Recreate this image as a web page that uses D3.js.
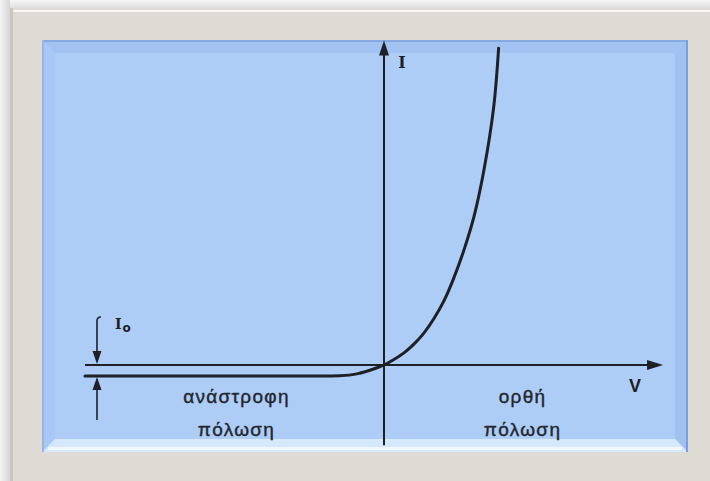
<!DOCTYPE html>
<html>
<head>
<meta charset="utf-8">
<script src="https://cdn.jsdelivr.net/npm/d3@7"></script>
<style>
html,body{margin:0;padding:0;background:#ececec;}
svg{display:block;}
</style>
</head>
<body>
<svg id="chart" width="710" height="481"></svg>
<script>
// ---- data (diode I–V characteristic, arbitrary units) ----
const curveV = [-3.0, -1.5, -0.6, -0.45, -0.35, -0.25, -0.15, -0.07, 0, 0.1, 0.2, 0.3, 0.4, 0.5, 0.6, 0.7, 0.8, 0.9, 1.0, 1.1, 1.15];
const curveI = [-1, -1, -1, -0.98, -0.92, -0.76, -0.5, -0.25, 0, 0.5, 1.1, 1.9, 2.9, 4.2, 5.8, 7.9, 10.4, 13.4, 17.6, 23.4, 28.8];
const vExtent = [-3.0, 2.8];      // horizontal axis from left end to arrow tip
const iExtent = [-7.3, 29.5];     // vertical axis from bottom end to arrow tip
const axisLabels = ["I", "V"];
const saturationLabel = ["I", "o"];
const regionLabels = [["ανάστροφη", "πόλωση"], ["ορθή", "πόλωση"]];
const regionCenters = [-1.48, 1.39];

const svg = d3.select("#chart");
const W = 710, H = 481;

// ---- frame / background ----
const defs = svg.append("defs");
const gl = defs.append("linearGradient").attr("id","shL").attr("x1",0).attr("x2",1).attr("y1",0).attr("y2",0);
gl.append("stop").attr("offset","0").attr("stop-color","#f4f4f4");
gl.append("stop").attr("offset","1").attr("stop-color","#d6d6d6");
const gt = defs.append("linearGradient").attr("id","shT").attr("x1",0).attr("x2",0).attr("y1",0).attr("y2",1);
gt.append("stop").attr("offset","0").attr("stop-color","#f6f6f6");
gt.append("stop").attr("offset","1").attr("stop-color","#dcdcdc");
svg.append("rect").attr("x",0).attr("y",0).attr("width",W).attr("height",H).attr("fill","#ededed");
svg.append("rect").attr("x",0).attr("y",0).attr("width",W).attr("height",9).attr("fill","url(#shT)");
svg.append("rect").attr("x",0).attr("y",0).attr("width",10).attr("height",H).attr("fill","url(#shL)");
svg.append("rect").attr("x",10).attr("y",8).attr("width",W-10).attr("height",H-8).attr("fill","#dedbd4");
svg.append("rect").attr("x",10).attr("y",8).attr("width",3).attr("height",H-8).attr("fill","#c9c6bf");
svg.append("rect").attr("x",13).attr("y",10).attr("width",W-13).attr("height",2).attr("fill","#f7f6f2");

// ---- blue panel with bevel ----
const px0 = 42, py0 = 40, px1 = 688, py1 = 452, bv = 13;
svg.append("rect").attr("x",px0).attr("y",py0).attr("width",px1-px0).attr("height",py1-py0).attr("fill","#adcdf7");
const poly = pts => pts.map(p => p.join(",")).join(" ");
svg.append("polygon").attr("points", poly([[px0,py0],[px1,py0],[px1-bv,py0+bv],[px0+bv,py0+bv]])).attr("fill","#a2c3f2");
svg.append("polygon").attr("points", poly([[px0,py0],[px0+bv,py0+bv],[px0+bv,py1-bv],[px0,py1]])).attr("fill","#a8c8f5");
svg.append("polygon").attr("points", poly([[px1,py0],[px1,py1],[px1-bv,py1-bv],[px1-bv,py0+bv]])).attr("fill","#a1c1f1");
svg.append("polygon").attr("points", poly([[px0,py1],[px0+bv,py1-bv],[px1-bv,py1-bv],[px1,py1]])).attr("fill","#d6e8fc");
svg.append("rect").attr("x",px0+6).attr("y",py1-5).attr("width",px1-px0-12).attr("height",3).attr("fill","#f0f7ff");
svg.append("rect").attr("x",px0).attr("y",py0).attr("width",px1-px0).attr("height",2).attr("fill","#86aae0");
svg.append("rect").attr("x",px0).attr("y",py0).attr("width",2).attr("height",py1-py0).attr("fill","#94b6ea");
svg.append("rect").attr("x",px1-2).attr("y",py0).attr("width",2).attr("height",py1-py0).attr("fill","#7c9fd6");

// ---- scales ----
const x = d3.scaleLinear().domain([vExtent[0], 0]).range([85, 384]);
const y = d3.scaleLinear().domain([-1, 0]).range([376, 365]);
const ink = "#1d2026";

// axes
svg.append("line").attr("x1",x(vExtent[0])).attr("x2",x(vExtent[1])-8).attr("y1",y(0)).attr("y2",y(0))
  .attr("stroke",ink).attr("stroke-width",2);
svg.append("line").attr("x1",x(0)).attr("x2",x(0)).attr("y1",y(iExtent[0])).attr("y2",y(iExtent[1])+8)
  .attr("stroke",ink).attr("stroke-width",2);
// arrowheads
const xt = x(vExtent[1]), yt = y(iExtent[1]);
svg.append("polygon").attr("points", poly([[xt,y(0)],[xt-16,y(0)-5],[xt-16,y(0)+5]])).attr("fill",ink);
svg.append("polygon").attr("points", poly([[x(0),yt],[x(0)-5,yt+15],[x(0)+5,yt+15]])).attr("fill",ink);

// characteristic curve
const line = d3.line().x((d,i)=>x(curveV[i])).y((d,i)=>y(curveI[i])).curve(d3.curveCatmullRom.alpha(0.5));
svg.append("path").datum(curveV).attr("d", line).attr("fill","none")
  .attr("stroke",ink).attr("stroke-width",3).attr("stroke-linecap","round");

// I0 dimension arrows
const ax = 97;
svg.append("path").attr("d", `M${ax},${y(0)-12} L${ax},${y(0)-44} Q${ax},${y(0)-48} ${ax+4},${y(0)-48}`)
  .attr("fill","none").attr("stroke",ink).attr("stroke-width",1.6);
svg.append("polygon").attr("points", poly([[ax,y(0)-1],[ax-4.5,y(0)-14],[ax+4.5,y(0)-14]])).attr("fill",ink);
svg.append("line").attr("x1",ax).attr("x2",ax).attr("y1",y(-1)+12).attr("y2",y(-1)+44)
  .attr("stroke",ink).attr("stroke-width",1.6);
svg.append("polygon").attr("points", poly([[ax,y(-1)+1],[ax-4.5,y(-1)+14],[ax+4.5,y(-1)+14]])).attr("fill",ink);

// labels
svg.append("text").attr("x",x(0)+18).attr("y",y(iExtent[1])+27).attr("text-anchor","middle")
  .attr("font-family","DejaVu Serif").attr("font-weight","bold").attr("font-size",16).attr("fill",ink).text(axisLabels[0]);
svg.append("text").attr("x",x(vExtent[1])-28).attr("y",y(0)+27).attr("text-anchor","middle")
  .attr("font-family","Liberation Sans").attr("font-weight","bold").attr("font-size",18).attr("fill",ink).text(axisLabels[1]);
const i0 = svg.append("text").attr("x",ax+18).attr("y",y(0)-36)
  .attr("font-family","DejaVu Serif").attr("font-weight","bold").attr("font-size",14).attr("fill",ink);
i0.append("tspan").text(saturationLabel[0]);
i0.append("tspan").attr("dy",3).attr("font-family","DejaVu Sans").attr("font-size",12).attr("dx",1).text(saturationLabel[1]);

regionLabels.forEach((lines, k) => {
  lines.forEach((t, j) => {
    svg.append("text").attr("x", x(regionCenters[k])).attr("y", 403 + j*33).attr("text-anchor","middle")
      .attr("font-family","Liberation Sans").attr("font-size",19).attr("letter-spacing",1.3)
      .attr("fill","#23262c").attr("stroke","#23262c").attr("stroke-width",0.4).text(t);
  });
});
</script>
</body>
</html>
